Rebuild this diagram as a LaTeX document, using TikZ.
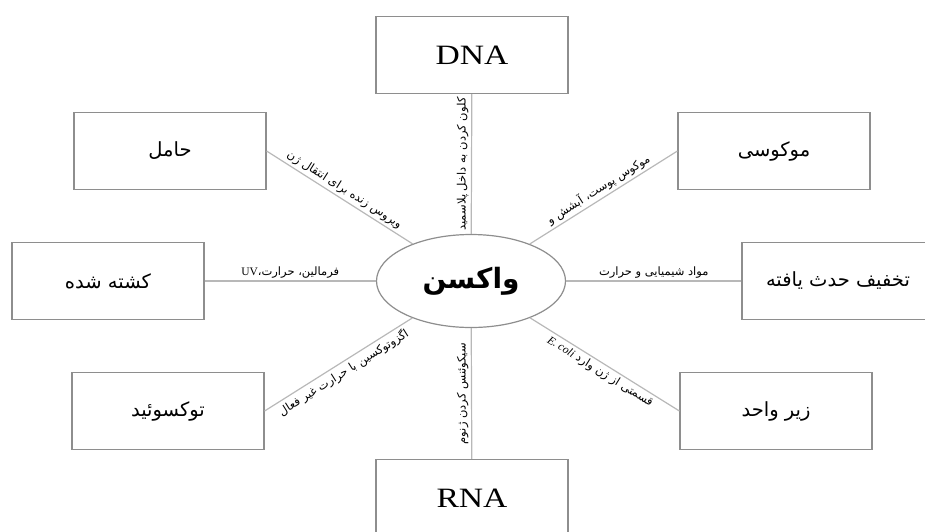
\documentclass[tikz,border=0pt]{standalone}
\usepackage{fontspec}
\usepackage{graphicx}
\setmainfont{Liberation Serif}
\newfontfamily\fa[Script=Arabic]{DejaVu Sans}
\TeXXeTstate=1
\usetikzlibrary{shapes.geometric}
\definecolor{boxgray}{HTML}{8E8E8E}
\definecolor{linegray}{HTML}{B8B8B8}
\begin{document}
\begin{tikzpicture}[x=1pt,y=-1pt,
  box/.style={draw=boxgray, line width=1.2pt, minimum width=192pt, minimum height=77pt, inner sep=0pt},
  fatext/.style={font=\fa\fontsize{19.5}{23}\selectfont},
  latext/.style={font=\fontsize{28}{30}\selectfont},
  conn/.style={draw=linegray, line width=1.2pt},
  lbl/.style={font=\fa\fontsize{11.5}{13}\selectfont, inner sep=2.5pt, text=black}]
\useasboundingbox (0,0) rectangle (925,531);
% boxes
\node[box, latext] (dna) at (472,55) {\scalebox{1.2}[1]{DNA}};
\node[box, latext] (rna) at (472,498) {\scalebox{1.2}[1]{RNA}};
\node[box, fatext] (hamel) at (170,151) {\beginR حامل\endR};
\node[box, fatext] (mok) at (774,151) {\beginR موکوسی\endR};
\node[box, fatext] (kosh) at (108,281) {\beginR کشته شده\endR};
\node[box, fatext] (takh) at (838,281) {\beginR تخفیف حدث یافته\endR};
\node[box, fatext] (tox) at (168,411) {\beginR توکسوئید\endR};
\node[box, fatext] (zir) at (776,411) {\beginR زیر واحد\endR};
% centre
\node[ellipse, draw=boxgray, line width=1.2pt, minimum width=189pt, minimum height=93pt, inner sep=0pt,
      font=\fa\bfseries\fontsize{28}{32}\selectfont] (vac) at (471,281) {\beginR واکسن\endR};
% connectors
\draw[conn] (dna) -- (vac)
  node[midway, anchor=south, rotate=90, lbl] {\beginR کلون کردن به داخل پلاسمید\endR};
\draw[conn] (vac) -- (rna)
  node[midway, anchor=south, rotate=90, lbl] {\beginR سیکوئنس کردن ژنوم\endR};
\draw[conn] (kosh) -- (vac)
  node[midway, above, lbl] {\beginR فرمالین، حرارت،{\rmfamily UV}\endR};
\draw[conn] (vac) -- (takh)
  node[midway, above, lbl] {\beginR مواد شیمیایی و حرارت\endR};
\draw[conn] (hamel.east) -- (vac)
  node[midway, sloped, above, lbl] {\beginR ویروس زنده برای انتقال ژن\endR};
\draw[conn] (vac) -- (mok.west)
  node[midway, sloped, above, lbl] {\beginR موکوس پوست، آبشش و\endR};
\draw[conn] (tox.east) -- (vac)
  node[midway, sloped, below, lbl] {\beginR اگزوتوکسین با حرارت غیر فعال\endR};
\draw[conn] (vac) -- (zir.west)
  node[midway, sloped, below, lbl] {\beginR قسمتی از ژن وارد \beginL{\rmfamily\itshape E. coli}\endL\endR};
\end{tikzpicture}
\end{document}
